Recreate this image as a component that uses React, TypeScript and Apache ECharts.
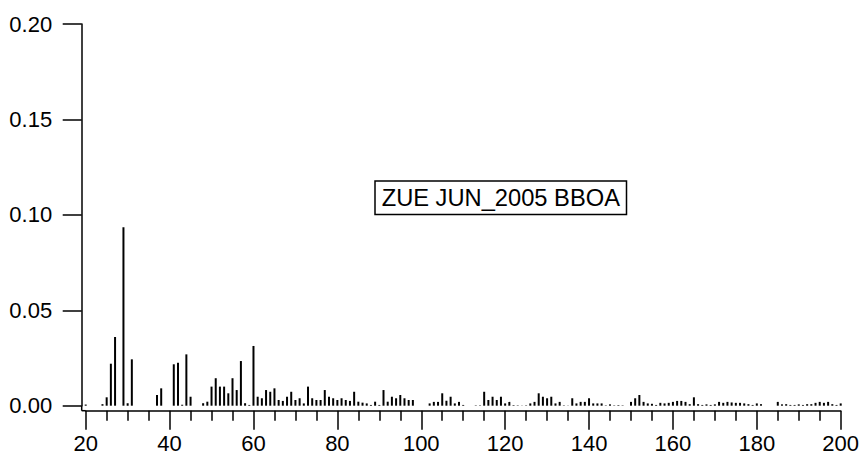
import { useEffect, useRef } from "react";
import * as echarts from "echarts";

// m/z values (only non-zero bars listed)
const massToCharge = [
  20, 24, 25, 26, 27, 29, 30, 31, 37, 38, 41, 42, 43, 44, 45, 48, 49, 50,
  51, 52, 53, 54, 55, 56, 57, 58, 59, 60, 61, 62, 63, 64, 65, 66, 67, 68,
  69, 70, 71, 72, 73, 74, 75, 76, 77, 78, 79, 80, 81, 82, 83, 84, 85, 86,
  87, 88, 89, 90, 91, 92, 93, 94, 95, 96, 97, 98, 99, 100, 101, 102, 103, 104,
  105, 106, 107, 108, 109, 110, 111, 112, 113, 114, 115, 116, 117, 118, 119, 120, 121, 122,
  123, 124, 125, 126, 127, 128, 129, 130, 131, 132, 133, 134, 135, 136, 137, 138, 139, 140,
  141, 142, 143, 144, 145, 146, 147, 148, 150, 151, 152, 153, 154, 155, 156, 157, 158, 159,
  160, 161, 162, 163, 164, 165, 166, 167, 168, 169, 170, 171, 172, 173, 174, 175, 176, 177,
  178, 179, 180, 181, 185, 186, 187, 188, 189, 190, 191, 192, 193, 194, 195, 196, 197, 198,
  199, 200,
];

const intensity = [
  0.0006, 0.0008, 0.0044, 0.022, 0.036, 0.0935, 0.0013, 0.0243, 0.0056, 0.0091, 0.0217, 0.0225, 0.0005, 0.0269, 0.0047, 0.0013, 0.0021, 0.01,
  0.0144, 0.01, 0.01, 0.0065, 0.0144, 0.0082, 0.0234, 0.0013, 0.0004, 0.0313, 0.0047, 0.0039, 0.0082, 0.0073, 0.0091, 0.003, 0.0025, 0.0047,
  0.0073, 0.003, 0.0039, 0.0012, 0.01, 0.0039, 0.003, 0.003, 0.0082, 0.0047, 0.0039, 0.003, 0.0039, 0.003, 0.0025, 0.0073, 0.0021, 0.0016,
  0.0012, 0.0004, 0.0021, 0.0004, 0.0082, 0.0021, 0.0047, 0.0039, 0.0056, 0.0039, 0.003, 0.003, -0.0003, -0.0003, -0.0002, 0.0012, 0.002, 0.002,
  0.0065, 0.0026, 0.0047, 0.0012, 0.002, 0.0004, -0.0003, -0.0005, 0.0002, 0.0002, 0.0073, 0.003, 0.0047, 0.003, 0.0047, 0.0012, 0.002, 0.0003,
  0.0002, 0.0001, 0.0002, 0.0012, 0.002, 0.0065, 0.0047, 0.0039, 0.0047, 0.0012, 0.002, 0.0002, 0.0001, 0.0039, 0.0012, 0.002, 0.002, 0.0039,
  0.0012, 0.0012, 0.0012, 0.0002, 0.0007, 0.0002, 0.0003, 0.0002, 0.002, 0.0039, 0.0056, 0.002, 0.0012, 0.001, 0.0004, 0.0015, 0.0012, 0.0015,
  0.002, 0.0025, 0.0025, 0.002, 0.0008, 0.0044, 0.0008, 0.0004, 0.0007, 0.0004, 0.0007, 0.002, 0.0015, 0.002, 0.0017, 0.0015, 0.0015, 0.0012,
  0.0008, 0.0004, 0.0012, 0.0008, 0.002, 0.0007, 0.0008, 0.0004, 0.0004, 0.0007, 0.0004, 0.0008, 0.0008, 0.0015, 0.002, 0.0015, 0.002, 0.0008,
  0.0004, 0.0012,
];

const seriesLabel = "ZUE JUN_2005 BBOA";

const FONT = "'Liberation Sans', Arial, sans-serif";

export default function App() {
  const ref = useRef<HTMLDivElement>(null);

  useEffect(() => {
    if (!ref.current) return;
    const chart = echarts.init(ref.current, undefined, { renderer: "svg" });
    const data = massToCharge.map((m, i) => [m, intensity[i]]);

    const left = 85.7;
    const right = 840.7;
    const top = 24;
    const zeroY = 405.7;
    const axisX = 81.7;
    const axisY = 410.7;

    chart.setOption({
      animation: false,
      backgroundColor: "#ffffff",
      grid: {
        left: left,
        right: 864 - right,
        top: top,
        bottom: 466 - zeroY,
        containLabel: false,
        outerBoundsMode: "none",
      },
      xAxis: {
        type: "value",
        min: 20,
        max: 200,
        interval: 20,
        offset: axisY - zeroY,
        axisLine: { show: true, onZero: false, lineStyle: { color: "#000", width: 1.5 } },
        axisTick: { show: true, length: 19, lineStyle: { color: "#000", width: 1.5 } },
        minorTick: { show: true, splitNumber: 4, length: 10, lineStyle: { color: "#000", width: 1.5 } },
        splitLine: { show: false },
        minorSplitLine: { show: false },
        axisLabel: { color: "#000", fontSize: 22, fontFamily: FONT, margin: 22 },
      },
      yAxis: {
        type: "value",
        min: 0,
        max: 0.2,
        interval: 0.05,
        offset: left - axisX,
        axisLine: { show: true, lineStyle: { color: "#000", width: 1.5 } },
        axisTick: { show: true, length: 19, lineStyle: { color: "#000", width: 1.5 } },
        splitLine: { show: false },
        axisLabel: {
          color: "#000",
          fontSize: 22,
          fontFamily: FONT,
          margin: 29.5,
          formatter: (v: number) => v.toFixed(2),
        },
      },
      series: [
        {
          type: "bar",
          data: data,
          barWidth: 2,
          itemStyle: { color: "#000" },
          silent: true,
        },
      ],
      graphic: [
        {
          type: "line",
          shape: { x1: axisX, y1: zeroY, x2: axisX, y2: axisY },
          style: { stroke: "#000", lineWidth: 1.5 },
          silent: true,
        },
        {
          type: "line",
          shape: { x1: axisX, y1: axisY, x2: left, y2: axisY },
          style: { stroke: "#000", lineWidth: 1.5 },
          silent: true,
        },
        {
          type: "rect",
          shape: { x: 375, y: 181, width: 251.5, height: 33.5 },
          style: { fill: "#fff", stroke: "#000", lineWidth: 1.5 },
          silent: true,
        },
        {
          type: "text",
          x: 500.8,
          y: 198,
          style: {
            text: seriesLabel,
            fill: "#000",
            font: `23.7px ${FONT}`,
            align: "center",
            verticalAlign: "middle",
          },
          silent: true,
        },
      ],
    });

    return () => chart.dispose();
  }, []);

  return (
    <div
      ref={ref}
      style={{ position: "absolute", left: 0, top: 0, width: 864, height: 466 }}
    />
  );
}
